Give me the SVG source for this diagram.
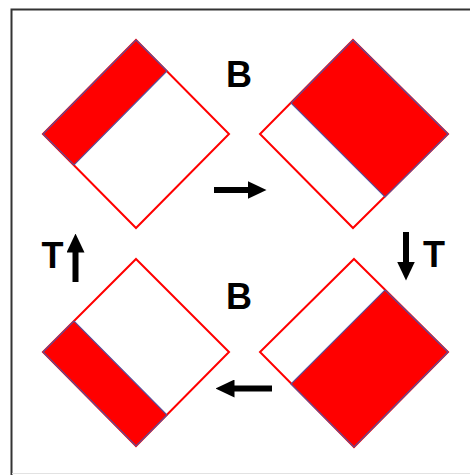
<svg xmlns="http://www.w3.org/2000/svg" width="470" height="475" viewBox="0 0 470 475">
<style>
.frame{stroke:#333;stroke-width:2;fill:none}
.dia{fill:#fff;stroke:#ff0000;stroke-width:2;stroke-linejoin:miter}
.band{fill:#ff0000;stroke:#5a4f9a;stroke-width:1.2;stroke-linejoin:miter}
.lbl{font-family:"Liberation Sans",Arial,sans-serif;font-weight:bold;font-size:36px;fill:#000;text-anchor:middle}
.arr{stroke:#000;stroke-width:6;fill:none}
</style>
<defs>
<marker id="head" viewBox="0 0 19 18" markerWidth="19" markerHeight="18" markerUnits="userSpaceOnUse" refX="0.5" refY="9" orient="auto">
<path d="M0,0 L19,9 L0,18 z" fill="#000"/>
</marker>
</defs>
<rect width="470" height="475" fill="#fff"/>
<path class="frame" d="M11.5,475 L11.5,9.5 L470,9.5"/>
<line x1="12" y1="473.5" x2="470" y2="473.5" stroke="#e2e2e2" stroke-width="1"/>
<g id="node-tl">
<polygon class="dia" points="136,40 229,134 136,228 43,134"/>
<polygon class="band" points="136,40 167,71 74,165 43,134"/>
</g>
<g id="node-tr">
<polygon class="dia" points="353,40 448,134 353,228 260,134"/>
<polygon class="band" points="353,40 448,134 385,197 291,103"/>
</g>
<g id="node-bl">
<polygon class="dia" points="136,259 229,352 136,446 43,352"/>
<polygon class="band" points="43,352 74,321 167,415 136,446"/>
</g>
<g id="node-br">
<polygon class="dia" points="354,259 448,352 354,447 260,352"/>
<polygon class="band" points="385,290 448,352 354,447 291,384"/>
</g>
<g id="labels">
<text class="lbl" x="239" y="87">B</text>
<text class="lbl" x="239" y="309">B</text>
<text class="lbl" x="52.5" y="268">T</text>
<text class="lbl" x="434" y="267">T</text>
</g>
<g id="connectors">
<line class="arr" x1="214" y1="190" x2="248" y2="190" marker-end="url(#head)"/>
<line class="arr" x1="406" y1="232" x2="406" y2="262" marker-end="url(#head)"/>
<line class="arr" x1="272" y1="388.5" x2="234" y2="388.5" marker-end="url(#head)"/>
<line class="arr" x1="75.5" y1="282" x2="75.5" y2="252" marker-end="url(#head)"/>
</g>
</svg>
